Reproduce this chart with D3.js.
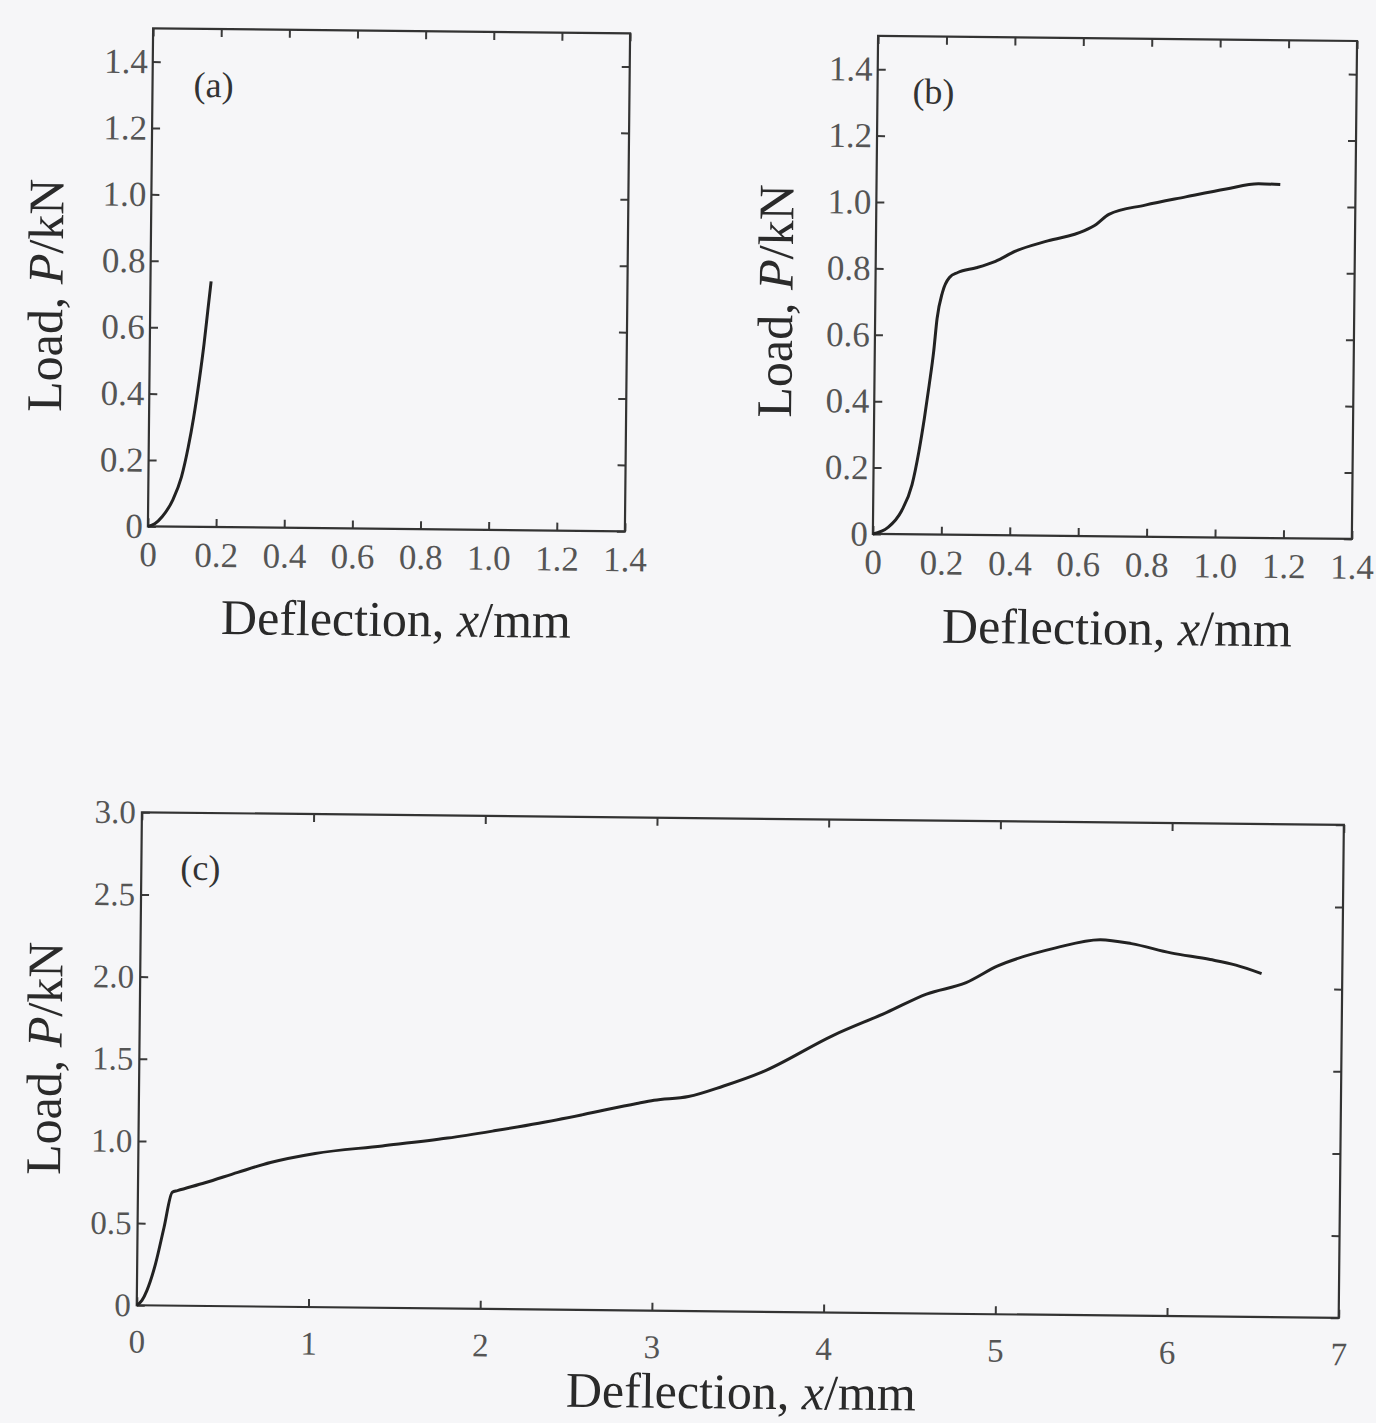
<!DOCTYPE html>
<html>
<head>
<meta charset="utf-8">
<script src="https://cdn.jsdelivr.net/npm/d3@7"></script>
<style>
  body { margin: 0; background: #f6f6f8; }
  svg { display: block; }
</style>
</head>
<body>
<svg id="fig"></svg>
<script>
// curve data
var xA = [0, 0.02, 0.042, 0.072, 0.097, 0.116, 0.131, 0.146, 0.159, 0.169, 0.178];
var yA = [0, 0.008, 0.03, 0.08, 0.15, 0.24, 0.33, 0.44, 0.55, 0.65, 0.74];

var xB = [0, 0.044, 0.083, 0.113, 0.132, 0.147, 0.16, 0.172, 0.181, 0.196, 0.216, 0.24, 0.294,
          0.35, 0.408, 0.502, 0.609, 0.644, 0.68, 0.786, 0.904, 1.022, 1.117, 1.18];
var yB = [0, 0.02, 0.07, 0.15, 0.25, 0.35, 0.45, 0.55, 0.65, 0.73, 0.775, 0.79, 0.805,
          0.825, 0.856, 0.888, 0.92, 0.94, 0.97, 0.999, 1.025, 1.05, 1.067, 1.065];

var xC = [0, 0.03, 0.058, 0.106, 0.154, 0.2, 0.23, 0.39, 0.58, 0.77, 1.03, 1.42, 1.8, 2.07, 2.33,
          2.59, 2.9, 3.0, 3.2, 3.4, 3.63, 4.04, 4.35, 4.58, 4.81, 4.99, 5.33, 5.59, 5.77, 6.0,
          6.23, 6.38, 6.53];
var yC = [0, 0.03, 0.09, 0.25, 0.475, 0.69, 0.70, 0.75, 0.815, 0.877, 0.935, 0.985, 1.037, 1.084, 1.133,
          1.189, 1.26, 1.28, 1.305, 1.37, 1.46, 1.687, 1.83, 1.944, 2.016, 2.118, 2.233, 2.286, 2.264, 2.21,
          2.172, 2.14, 2.09];

// tick values
var ticksAB = [0, 0.2, 0.4, 0.6, 0.8, 1.0, 1.2, 1.4];
var ticksCx = [0, 1, 2, 3, 4, 5, 6, 7];
var ticksCy = [0, 0.5, 1.0, 1.5, 2.0, 2.5, 3.0];

var panelLabels = ["(a)", "(b)", "(c)"];

var W = 1376, H = 1423, TICK = 8;
var serif = "'Liberation Serif', 'Times New Roman', serif";

var svg = d3.select("#fig").attr("width", W).attr("height", H);
svg.append("rect").attr("width", W).attr("height", H).attr("fill", "#f6f6f8");

// the scan is turned a little clockwise
var root = svg.append("g").attr("transform", "rotate(0.6," + W/2 + "," + H/2 + ")");

var fmt1 = function(d) { return d === 0 ? "0" : d3.format(".1f")(d); };
var fmt0 = function(d) { return String(d); };

function zip(xs, ys) { return xs.map(function(v, i) { return {x: v, y: ys[i]}; }); }

function drawPanel(o) {
  var x = d3.scaleLinear().domain(o.xDomain).range([o.left, o.right]);
  var y = d3.scaleLinear().domain(o.yDomain).range([o.bottom, o.top]);
  var g = root.append("g");

  function styleAxis(a, labels) {
    a.select(".domain").remove();
    a.selectAll(".tick line").attr("stroke", "#3a3a3a").attr("stroke-width", 2);
    a.selectAll(".tick text")
      .attr("fill", labels ? "#555" : "none")
      .style("font-family", serif)
      .style("font-size", o.tickFont + "px");
  }

  g.append("g").attr("transform", "translate(0," + o.bottom + ")")
    .call(d3.axisBottom(x).tickValues(o.xTicks).tickSize(-TICK).tickPadding(o.xPad).tickFormat(o.fmtX))
    .call(function(a) { styleAxis(a, true); });
  g.append("g").attr("transform", "translate(0," + o.top + ")")
    .call(d3.axisTop(x).tickValues(o.xTicks).tickSize(-TICK).tickFormat(""))
    .call(function(a) { styleAxis(a, false); });
  g.append("g").attr("transform", "translate(" + o.left + ",0)")
    .call(d3.axisLeft(y).tickValues(o.yTicks).tickSize(-TICK).tickPadding(o.yPad).tickFormat(o.fmtY))
    .call(function(a) { styleAxis(a, true); });
  g.append("g").attr("transform", "translate(" + o.right + ",0)")
    .call(d3.axisRight(y).tickValues(o.yTicks).tickSize(-TICK).tickFormat(""))
    .call(function(a) { styleAxis(a, false); });

  // frame
  g.append("rect")
    .attr("x", o.left).attr("y", o.top)
    .attr("width", o.right - o.left).attr("height", o.bottom - o.top)
    .attr("fill", "none").attr("stroke", "#333").attr("stroke-width", 2.2);

  // load-deflection curve
  var line = d3.line()
    .x(function(d) { return x(d.x); })
    .y(function(d) { return y(d.y); })
    .curve(d3.curveMonotoneX);
  g.append("path")
    .datum(zip(o.xs, o.ys))
    .attr("fill", "none")
    .attr("stroke", "#222")
    .attr("stroke-width", 3)
    .attr("stroke-linejoin", "round")
    .attr("d", line);

  // panel label
  g.append("text")
    .attr("x", o.lab[0]).attr("y", o.lab[1])
    .attr("text-anchor", "middle")
    .style("font-family", serif).style("font-size", "36px").attr("fill", "#333")
    .text(o.label);

  // x title
  var xt = g.append("text")
    .attr("x", o.xTitle[0]).attr("y", o.xTitle[1])
    .attr("text-anchor", "middle")
    .style("font-family", serif).style("font-size", "50px").attr("fill", "#2a2a2a");
  xt.append("tspan").text("Deflection, ");
  xt.append("tspan").style("font-style", "italic").text("x");
  xt.append("tspan").text("/mm");

  // y title
  var yt = g.append("text")
    .attr("transform", "translate(" + o.yTitle[0] + "," + o.yTitle[1] + ") rotate(-90)")
    .attr("text-anchor", "middle")
    .style("font-family", serif).style("font-size", "50px").attr("fill", "#2a2a2a");
  yt.append("tspan").text("Load, ");
  yt.append("tspan").style("font-style", "italic").text("P");
  yt.append("tspan").text("/kN");
}

drawPanel({
  left: 146, right: 623, top: 34, bottom: 532,
  xDomain: [0, 1.4], yDomain: [0, 1.5],
  xTicks: ticksAB, yTicks: ticksAB, fmtX: fmt1, fmtY: fmt1,
  xPad: 15, yPad: 5, tickFont: 35,
  xs: xA, ys: yA, label: panelLabels[0], lab: [207, 102],
  xTitle: [395, 639], yTitle: [58, 302]
});

drawPanel({
  left: 871, right: 1350, top: 34, bottom: 532,
  xDomain: [0, 1.4], yDomain: [0, 1.5],
  xTicks: ticksAB, yTicks: ticksAB, fmtX: fmt1, fmtY: fmt1,
  xPad: 15, yPad: 5, tickFont: 35,
  xs: xB, ys: yB, label: panelLabels[1], lab: [927, 101],
  xTitle: [1116, 640], yTitle: [788, 300]
});

drawPanel({
  left: 143, right: 1345, top: 818, bottom: 1311,
  xDomain: [0, 7], yDomain: [0, 3],
  xTicks: ticksCx, yTicks: ticksCy, fmtX: fmt0, fmtY: fmt1,
  xPad: 24, yPad: 6, tickFont: 33,
  xs: xC, ys: yC, label: panelLabels[2], lab: [202, 885],
  xTitle: [748, 1408], yTitle: [65, 1065]
});
</script>
</body>
</html>
